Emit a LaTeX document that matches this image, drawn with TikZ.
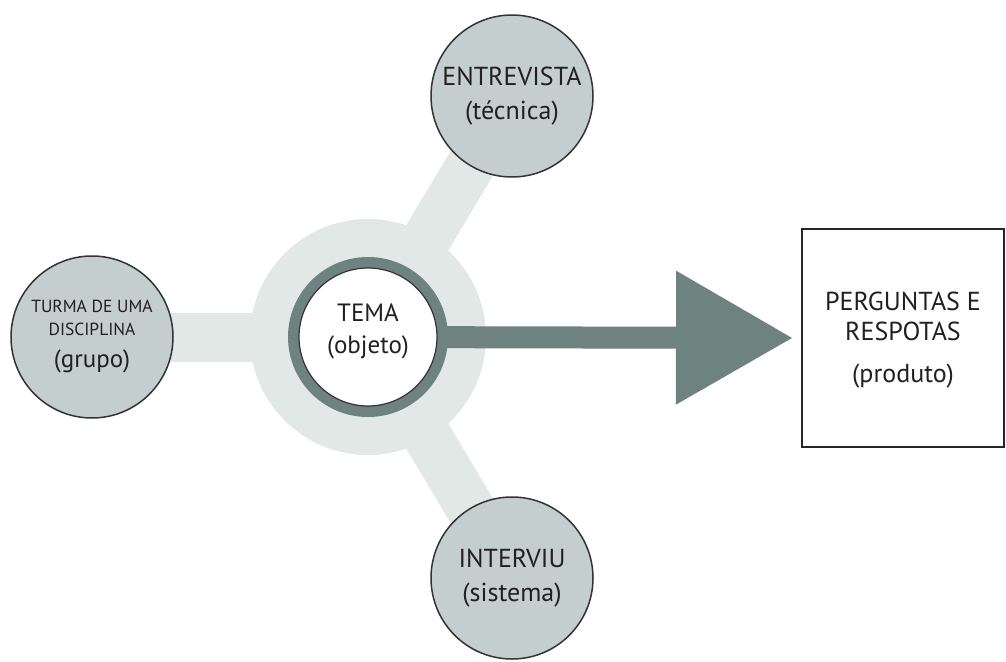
\documentclass[tikz,border=0pt]{standalone}
\usepackage{fontspec}
\setmainfont{PT Sans}
\usetikzlibrary{arrows.meta,backgrounds}
\definecolor{halo}{HTML}{E1E8E6}
\definecolor{cfill}{HTML}{C4CECE}
\definecolor{dark}{HTML}{6E8280}
\definecolor{txt}{HTML}{231F20}
\tikzset{
  bigc/.style={circle, minimum size=162pt, inner sep=0pt, fill=cfill, draw=black!80, line width=1.5pt, align=center, text=txt, font=\fontsize{26}{34}\selectfont},
  arm/.style={line width=49pt, draw=halo},
}
\begin{document}
\begin{tikzpicture}[x=1pt,y=-1pt]
\useasboundingbox (0,0) rectangle (1006,661);
\coordinate (c) at (368,337);
\node[bigc] (ent) at (512,96) {ENTREVISTA\\(técnica)};
\node[bigc] (int) at (512,578) {INTERVIU\\(sistema)};
\node[bigc, font=\fontsize{17.5}{23}\selectfont] (tur) at (92,337) {TURMA DE UMA\\DISCIPLINA\\[9pt]{\fontsize{25}{28}\selectfont (grupo)}};
\begin{scope}[on background layer]
\node[circle, fill=halo, minimum size=236pt, inner sep=0pt] (halo) at (c) {};
\draw[arm] (halo.center) -- (ent.center);
\draw[arm] (halo.center) -- (int.center);
\draw[arm] (halo.center) -- (tur.center);
\end{scope}
% product box
\node[draw=black!85, line width=2pt, minimum width=202pt, minimum height=218pt, inner sep=0pt, align=center, text=txt, font=\fontsize{26}{30}\selectfont] (box) at (903,338) {\rule{0pt}{22pt}PERGUNTAS E\\RESPOTAS\\[12pt](produto)};
% ring
\node[circle, fill=dark, minimum size=160pt, inner sep=0pt] (ring) at (c) {};
% arrow
\draw[dark, line width=22pt, shorten >=9pt, -{Triangle[length=116pt, width=134pt, line width=0pt]}] (ring.center) -- (box.west);
\node[circle, fill=white, draw=black!80, line width=1.2pt, minimum size=138pt, inner sep=0pt, align=center, text=txt, font=\fontsize{25}{32}\selectfont] (tema) at (ring.center) {TEMA\\(objeto)\\[-16pt]\mbox{}};
\end{tikzpicture}
\end{document}
